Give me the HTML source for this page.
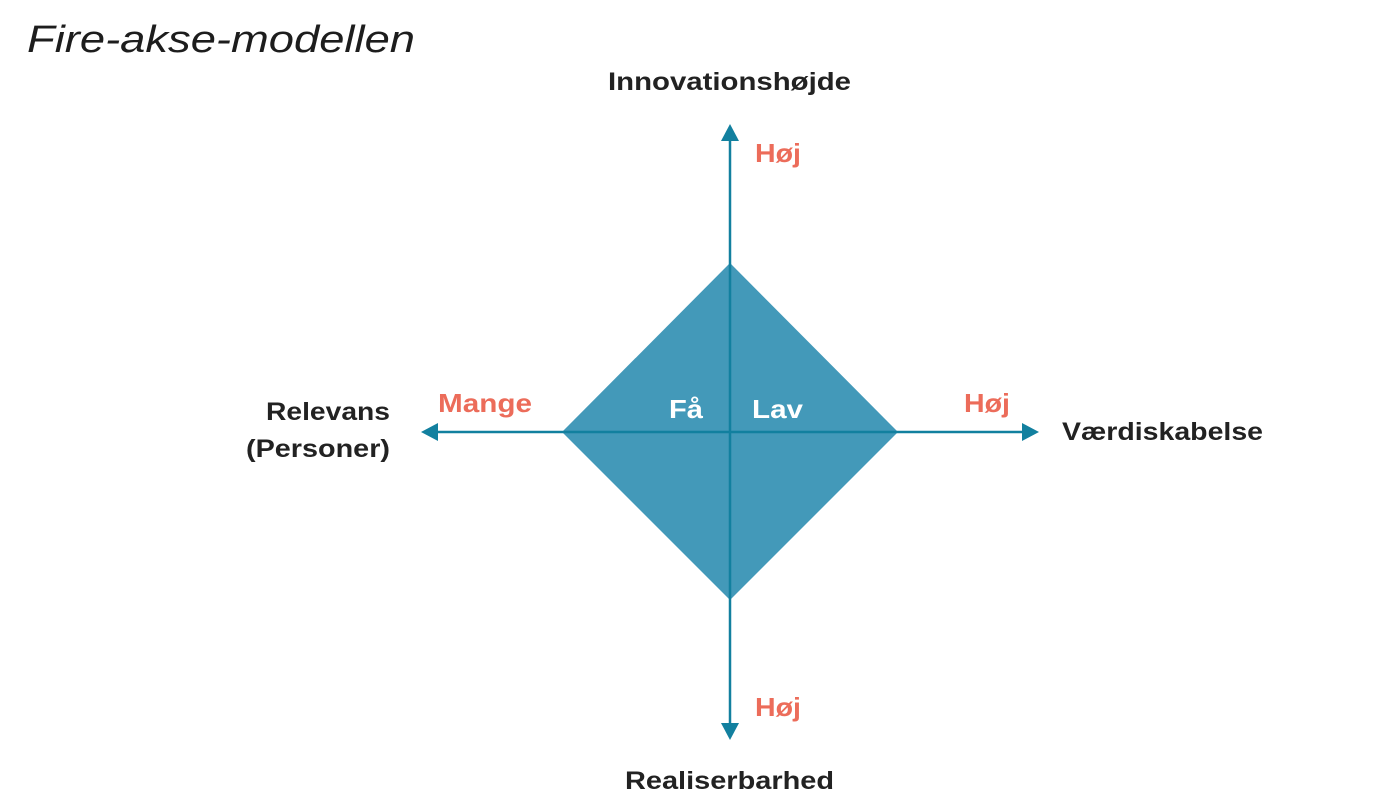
<!DOCTYPE html>
<html><head><meta charset="utf-8"><style>
body{margin:0;background:#fff;}
svg{display:block}
text{font-family:"Liberation Sans",sans-serif;}
</style></head><body>
<svg width="1400" height="812" viewBox="0 0 1400 812">
<rect width="1400" height="812" fill="#fff"/>
<text x="27" y="52" font-size="38" font-style="italic" fill="#1d1d1d" textLength="388" lengthAdjust="spacingAndGlyphs">Fire-akse-modellen</text>
<polygon points="730,263 898,432 730,600 562,432" fill="#4399b9"/>
<g stroke="#12809f" stroke-width="2.5">
<line x1="730" y1="138" x2="730" y2="726"/>
<line x1="436" y1="432" x2="1024" y2="432"/>
</g>
<g fill="#12809f">
<polygon points="730,124 721,141 739,141"/>
<polygon points="730,740 721,723 739,723"/>
<polygon points="421,432 438,423 438,441"/>
<polygon points="1039,432 1022,423 1022,441"/>
</g>
<g font-weight="bold" font-size="25" fill="#222">
<text x="608" y="90" textLength="243" lengthAdjust="spacingAndGlyphs">Innovationshøjde</text>
<text x="625" y="789" textLength="209" lengthAdjust="spacingAndGlyphs">Realiserbarhed</text>
<text x="266" y="420" textLength="124" lengthAdjust="spacingAndGlyphs">Relevans</text>
<text x="246" y="457" textLength="144" lengthAdjust="spacingAndGlyphs">(Personer)</text>
<text x="1062" y="440" textLength="201" lengthAdjust="spacingAndGlyphs">Værdiskabelse</text>
</g>
<g font-weight="bold" font-size="26" fill="#ec6c5a">
<text x="755" y="162" textLength="46" lengthAdjust="spacingAndGlyphs">Høj</text>
<text x="755" y="716" textLength="46" lengthAdjust="spacingAndGlyphs">Høj</text>
<text x="964" y="412" textLength="46" lengthAdjust="spacingAndGlyphs">Høj</text>
<text x="438" y="412" textLength="94" lengthAdjust="spacingAndGlyphs">Mange</text>
</g>
<g font-weight="bold" font-size="26" fill="#fff">
<text x="669" y="418" textLength="34" lengthAdjust="spacingAndGlyphs">Få</text>
<text x="752" y="418" textLength="51" lengthAdjust="spacingAndGlyphs">Lav</text>
</g>
</svg>
</body></html>
